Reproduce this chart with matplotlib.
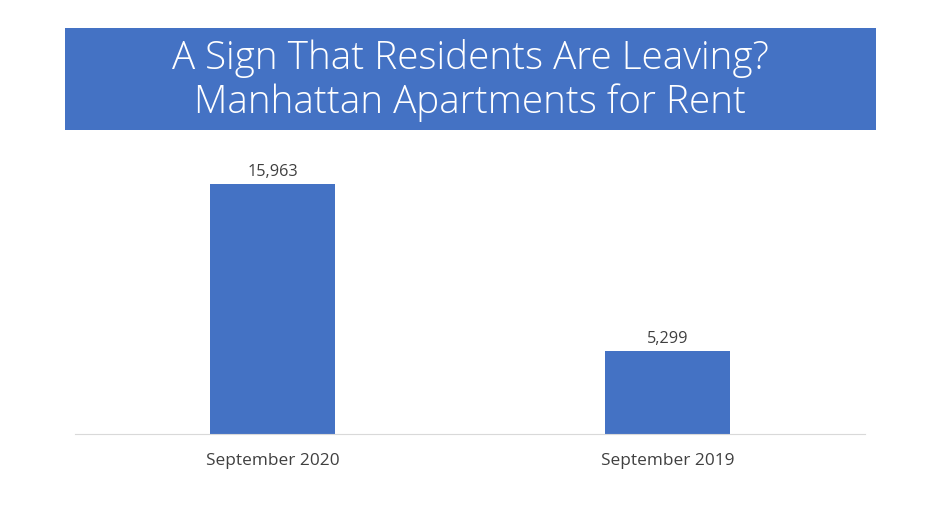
import matplotlib
matplotlib.use("Agg")
import matplotlib.pyplot as plt
from matplotlib.patches import Rectangle

plt.rcParams["font.family"] = ["Open Sans", "DejaVu Sans"]

categories = ["September 2020", "September 2019"]
listings = [15963, 5299]
title_lines = ["A Sign That Residents Are Leaving?", "Manhattan Apartments for Rent"]

BLUE = "#4472C4"
TEXT = "#404040"

fig = plt.figure(figsize=(9.4, 5.29), dpi=100)

# title banner
fig.patches.append(Rectangle((0.0691, 0.7543), 0.8628, 0.1928, transform=fig.transFigure,
                             facecolor=BLUE, edgecolor="none", zorder=0))
fig.text(0.5, 0.848, "\n".join(title_lines), ha="center", va="center", color="white",
         fontsize=27.8, fontweight="light", linespacing=1.2)

ax = fig.add_axes([0.0798, 0.1796, 0.8404, 0.537])
x = range(len(categories))
bars = ax.bar(x, listings, width=0.314, color=BLUE)
for b, v in zip(bars, listings):
    ax.annotate(f"{v:,}", (b.get_x() + b.get_width() / 2, v), xytext=(0, 3),
                textcoords="offset points", ha="center", va="bottom", fontsize=11.7, color=TEXT)

ax.set_xlim(-0.5, 1.5)
ax.set_ylim(0, 18134)
ax.set_xticks(list(x))
ax.set_xticklabels(categories, fontsize=12.4, color=TEXT)
ax.tick_params(axis="x", length=0, pad=14)
ax.set_yticks([])
for s in ["top", "right", "left"]:
    ax.spines[s].set_visible(False)
ax.spines["bottom"].set_color("#D9D9D9")

fig.savefig("out.png", dpi=100)
